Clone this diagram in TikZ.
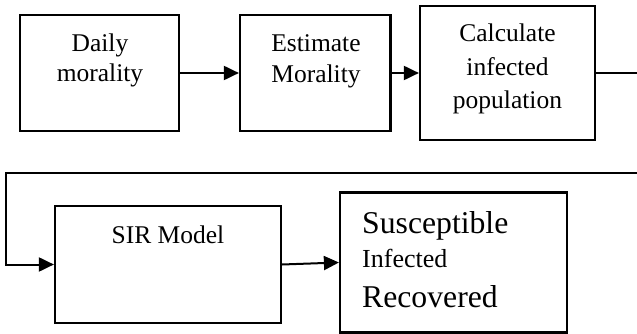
\documentclass[tikz,border=0pt]{standalone}
\usepackage{fontspec}
\setmainfont{Liberation Serif}
\usetikzlibrary{arrows.meta}
\begin{document}
\begin{tikzpicture}[x=1pt,y=-1pt,
  box/.style={draw,line width=2.2pt,inner sep=0pt},
  txt/.style={anchor=base,inner sep=0pt,font=\fontsize{25.5}{30}\selectfont},
  txtl/.style={anchor=base west,inner sep=0pt,font=\fontsize{26}{30}\selectfont},
  big/.style={anchor=base west,inner sep=0pt,font=\fontsize{31.7}{36}\selectfont},
  conn/.style={line width=2pt,-{Triangle[length=15pt,width=14pt]}},
  ]
\useasboundingbox (0,0) rectangle (637,334);
\fill[white] (0,0) rectangle (637,334);
% boxes
\node[box,minimum width=159pt,minimum height=116pt] (b1) at (99.5,73) {};
\node[box,minimum width=150.5pt,minimum height=116pt] (b2) at (315.25,73) {};
\node[box,minimum width=175pt,minimum height=134pt] (b3) at (507.5,73) {};
\node[box,minimum width=226pt,minimum height=117pt] (b4) at (168,264.5) {};
\node[box,minimum width=227pt,minimum height=140pt] (b5) at (453.5,262.5) {};
% texts
\node[txt] (t1a) at (100,52) {Daily};
\node[txt] (t1b) at (100,82) {morality};
\node[txt] (t2a) at (316,52) {Estimate};
\node[txt] (t2b) at (316,83) {Morality};
\node[txt] (t3a) at (507.5,42) {Calculate};
\node[txt] (t3b) at (507.5,76) {infected};
\node[txt] (t3c) at (507.5,109) {population};
\node[txt] (t4) at (168,243) {SIR Model};
\node[big] (t5a) at (362,233) {Susceptible};
\node[txtl] (t5b) at (362,267) {Infected};
\node[big] (t5c) at (362,307) {Recovered};
% connectors
\coordinate (c1) at (645,73);
\coordinate (c2) at (645,173);
\coordinate (c3) at (6,173);
\draw[conn] (b1.east) -- (b2.west);
\draw[conn] (b2.east) -- (b3.west);
\draw[conn] (b3.east) -- (c1) -- (c2) -- (c3) |- (b4.west);
\draw[conn] (b4.east) -- (b5.west);
\end{tikzpicture}
\end{document}
